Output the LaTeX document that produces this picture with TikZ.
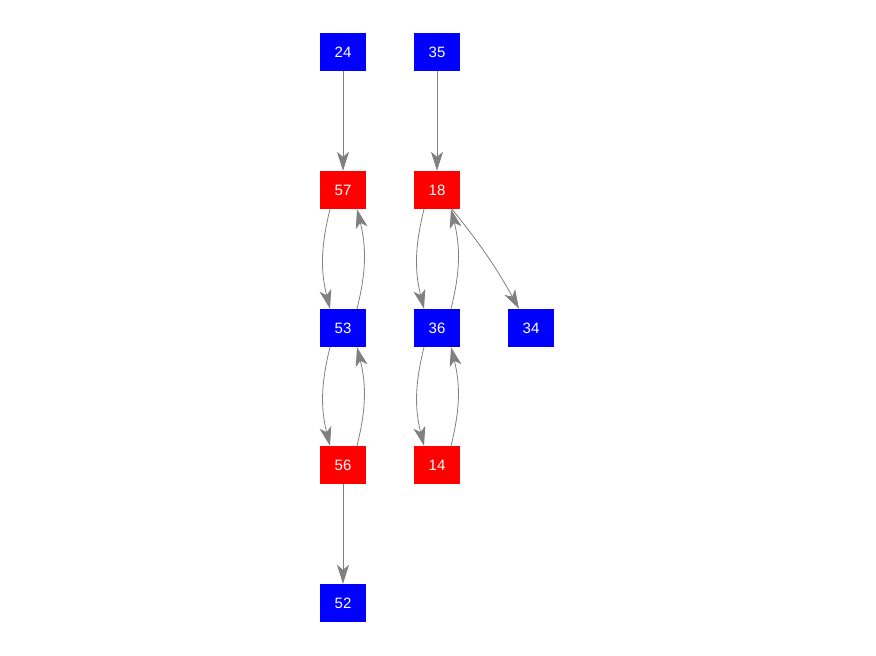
\documentclass[tikz,border=0pt]{standalone}
\usepackage{fontspec}
\setmainfont{Liberation Sans}
\usetikzlibrary{arrows.meta}

\begin{document}
\begin{tikzpicture}[x=1pt,y=-1pt,
  redbox/.style={white,rectangle,minimum width=46pt,minimum height=38pt,inner sep=0pt,fill=red,font=\fontsize{15}{17}\selectfont},
  bluebox/.style={white,rectangle,minimum width=46pt,minimum height=38pt,inner sep=0pt,fill=blue,font=\fontsize{15}{17}\selectfont},
  link/.style={draw=gray,line width=0.8pt,-{Stealth[length=19pt,width=12pt,inset=5pt]},fill=none}]
\useasboundingbox (0,0) rectangle (876,656);
\node[bluebox] (n24) at (343,52) {24};
\node[bluebox] (n35) at (437,52) {35};
\node[redbox] (n57) at (343,190) {57};
\node[redbox] (n18) at (437,190) {18};
\node[bluebox] (n53) at (343,328) {53};
\node[bluebox] (n36) at (437,328) {36};
\node[bluebox] (n34) at (531,328) {34};
\node[redbox] (n56) at (343,465) {56};
\node[redbox] (n14) at (437,465) {14};
\node[bluebox] (n52) at (343,603) {52};
\path[link] (n24) -- (n57);
\path[link] (n35) -- (n18);
\path[link] (n56) -- (n52);
\path[link] ([xshift=-13pt]n57.south) to[bend right=14] ([xshift=-13pt]n53.north);
\path[link] ([xshift=14pt]n53.north) to[bend right=14] ([xshift=14pt]n57.south);
\path[link] ([xshift=-13pt]n53.south) to[bend right=14] ([xshift=-13pt]n56.north);
\path[link] ([xshift=14pt]n56.north) to[bend right=14] ([xshift=14pt]n53.south);
\path[link] ([xshift=-13pt]n18.south) to[bend right=14] ([xshift=-13pt]n36.north);
\path[link] ([xshift=14pt]n36.north) to[bend right=14] ([xshift=14pt]n18.south);
\path[link] ([xshift=-13pt]n36.south) to[bend right=14] ([xshift=-13pt]n14.north);
\path[link] ([xshift=14pt]n14.north) to[bend right=14] ([xshift=14pt]n36.south);
\path[link] ([xshift=15pt]n18.south) to[bend left=5] ([xshift=-12pt]n34.north);
\end{tikzpicture}
\end{document}
